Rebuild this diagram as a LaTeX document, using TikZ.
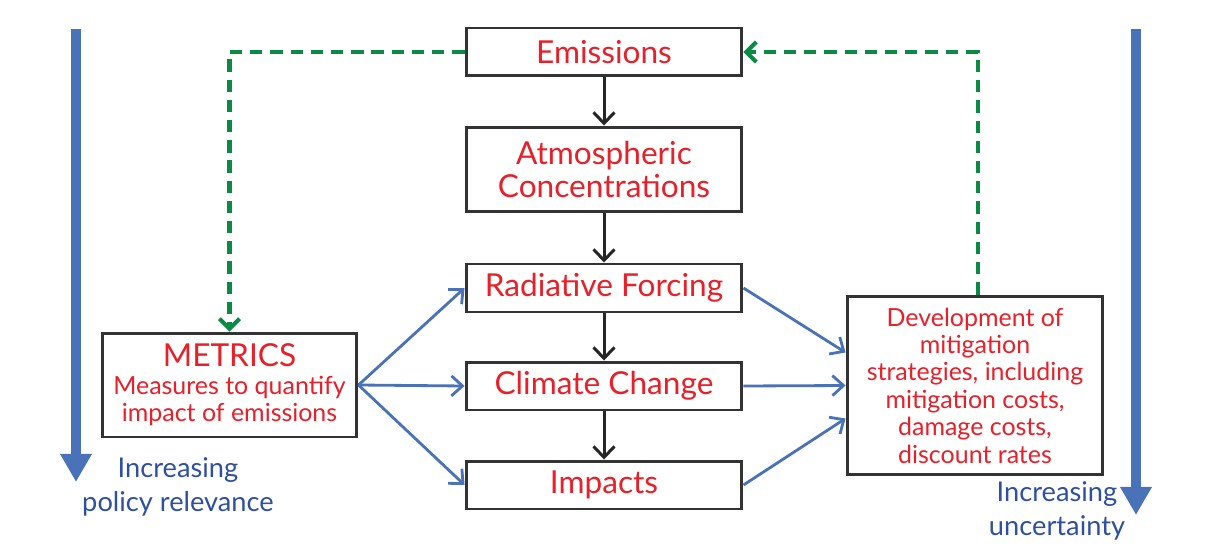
\documentclass[tikz,border=0pt]{standalone}
\usepackage{fontspec}
\setmainfont{Lato}
\usetikzlibrary{arrows.meta,positioning}
\definecolor{txtred}{HTML}{E8202A}
\definecolor{arrblue}{HTML}{4A72B8}
\definecolor{dgreen}{HTML}{0A8A45}
\definecolor{lblblue}{HTML}{2F4FA0}
\definecolor{boxgray}{HTML}{333333}

\begin{document}
\begin{tikzpicture}[
  x=0.02cm,y=-0.02cm,
  box/.style={draw=boxgray,line width=1.7pt,fill=white,align=center,text=txtred,
    font=\fontsize{18}{20}\selectfont,minimum width=5.52cm,minimum height=0.96cm,inner sep=0pt},
  side/.style={box,minimum width=5.12cm,font=\fontsize{14.2}{15.6}\selectfont},
  flow/.style={-{Straight Barb[length=2.2mm,width=4.2mm]},line width=1.7pt,draw=black!85},
  feed/.style={-{Straight Barb[length=2.2mm,width=4mm]},line width=1.6pt,draw=arrblue},
  back/.style={-{Straight Barb[length=2mm,width=4mm]},line width=2.3pt,draw=dgreen,
    dash pattern=on 7pt off 4.5pt},
  big/.style={-{Triangle[length=16pt,width=17pt]},line width=6pt,draw=arrblue},
  lbl/.style={align=center,text=lblblue,font=\fontsize{15.5}{19}\selectfont}]
\useasboundingbox (0,0) rectangle (1216,547);
% main chain
\node[box] (emis) at (604,52) {Emissions};
\node[box,minimum height=1.7cm,font=\fontsize{18}{19}\selectfont] (atmos) at (604,169.5) {Atmospheric\\Concentrations};
\node[box] (rf) at (604,288) {Radiative Forcing};
\node[box] (cc) at (604,386) {Climate Change};
\node[box] (imp) at (604,485) {Impacts};
% side boxes
\node[side,minimum width=5.1cm,minimum height=2.08cm] (metrics) at (229.5,385)
 {{\fontsize{18}{20}\selectfont METRICS}\\Measures to quantify\\impact of emissions};
\node[side,minimum height=3.58cm] (dev) at (975,385.5)
 {Development of\\mitigation\\strategies, including\\mitigation costs,\\damage costs,\\discount rates};
% trend arrows
\coordinate (poltop) at (76,29);
\coordinate (polend) at (76,482);
\coordinate (unctop) at (1136,29);
\coordinate (uncend) at (1136,515);
\draw[big] (poltop)--(polend);
\draw[big] (unctop)--(uncend);
\node[lbl] (pol) at (178,487) {Increasing\\policy relevance};
\node[lbl] (unc) at (1057,511) {Increasing\\uncertainty};
% connectors
\draw[flow] (emis)--(atmos);
\draw[flow] (atmos)--(rf);
\draw[flow] (rf)--(cc);
\draw[flow] (cc)--(imp);
\draw[feed] (metrics.east)--(rf.west);
\draw[feed] (metrics.east)--(cc.west);
\draw[feed] (metrics.east)--(imp.west);
\draw[feed] (rf.east)--([yshift=0.66cm]dev.west);
\draw[feed] (cc.east)--(dev.west);
\draw[feed] (imp.east)--([yshift=-0.66cm]dev.west);
\draw[back] (emis.west) -| (metrics.north);
\draw[back] ([xshift=0.06cm]dev.north) |- (emis.east);
\end{tikzpicture}
\end{document}
